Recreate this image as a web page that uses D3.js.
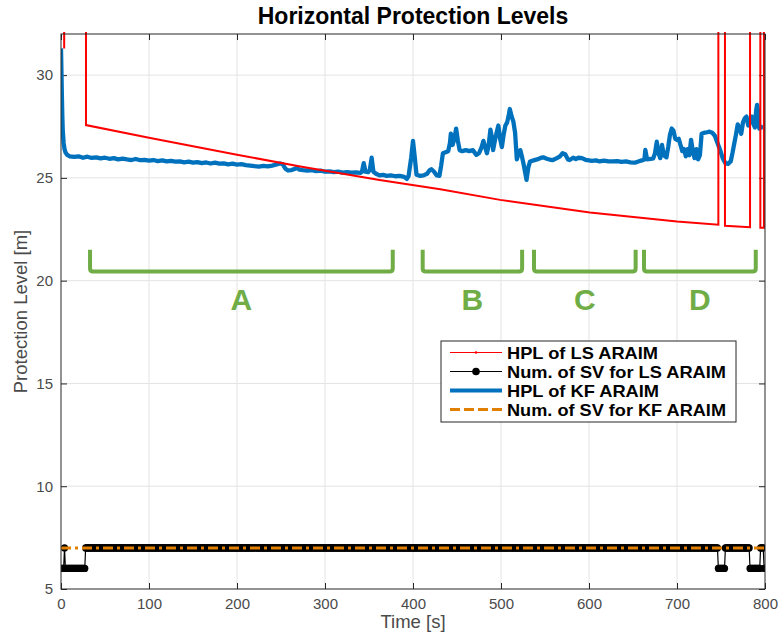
<!DOCTYPE html>
<html>
<head>
<meta charset="utf-8">
<script src="https://cdn.jsdelivr.net/npm/d3@7"></script>
<style>
  body { margin: 0; background: #fff; }
  text { font-family: "Liberation Sans", Arial, Helvetica, sans-serif; }
</style>
</head>
<body>
<div id="chart"></div>
<script>
// tick labels
const xTicks = [0, 100, 200, 300, 400, 500, 600, 700, 800];
const yTicks = [5, 10, 15, 20, 25, 30];

// HPL of KF ARAIM [time s, metres]
const hplKF = [
  [0,31.3],[0.5,30.2],[1,29.0],[1.5,28.0],[2,27.3],[3,26.7],[4,26.4],[5,26.25],[7,26.12],[10,26.05],
  [15,26.02],[20,26.05],[25,25.98],[30,26.03],[35,25.97],[40,26.0],[45,25.95],[50,25.98],[55,25.93],
  [60,25.96],[65,25.9],[70,25.94],[75,25.9],[80,25.87],[85,25.92],[90,25.86],[95,25.88],[100,25.84],
  [105,25.87],[110,25.82],[115,25.85],[120,25.8],[125,25.83],[130,25.79],[135,25.8],[140,25.76],
  [145,25.79],[150,25.74],[155,25.77],[160,25.72],[165,25.75],[170,25.7],[175,25.74],[180,25.69],
  [185,25.71],[190,25.66],[195,25.69],[200,25.65],[205,25.67],[210,25.62],[215,25.6],[220,25.57],
  [225,25.55],[230,25.58],[235,25.56],[240,25.6],[245,25.65],[249,25.7],[252,25.66],[255,25.45],
  [258,25.36],[262,25.38],[266,25.45],[268,25.48],[271,25.4],[275,25.38],[280,25.36],[285,25.38],
  [290,25.33],[295,25.35],[300,25.3],[305,25.32],[310,25.28],[315,25.3],[320,25.26],[325,25.28],
  [330,25.25],[335,25.27],[340,25.24],[342,25.3],[344,25.72],[346,25.3],[349,25.28],[351,25.4],
  [353,25.98],[355,25.3],[358,25.2],[362,25.12],[366,25.15],[370,25.1],[375,25.12],[380,25.08],
  [385,25.1],[390,25.05],[393,24.95],[395,25.1],[398,26.0],[400,26.8],[402,26.0],[404,25.15],
  [408,25.1],[412,25.12],[416,25.2],[419,25.38],[421,25.42],[424,25.3],[427,25.12],[430,25.1],
  [432,25.6],[434,26.2],[437,26.25],[440,26.3],[442,26.7],[443,27.15],[445,26.6],[447,26.9],
  [449,27.4],[451,26.8],[453,26.35],[456,26.3],[460,26.35],[464,26.3],[468,26.35],[472,26.12],
  [475,26.2],[478,26.5],[480,26.8],[482,26.5],[484,26.2],[486,26.6],[488,27.35],[490,26.9],
  [491,26.35],[493,26.8],[495,27.2],[497,27.55],[499,26.9],[501,26.5],[503,27.1],[505,27.55],
  [507,27.7],[509,28.1],[510,28.35],[512,28.0],[514,27.75],[516,27.2],[518,25.9],[520,26.2],
  [522,26.35],[524,26.0],[526,25.6],[529,24.9],[531,25.5],[533,25.8],[537,25.85],[541,25.9],
  [545,25.97],[548,26.0],[552,25.93],[556,25.88],[559,25.87],[563,25.95],[567,26.05],[570,26.2],
  [573,26.15],[576,25.9],[578,25.87],[582,25.98],[585,25.92],[588,25.98],[592,25.96],[596,25.88],
  [600,25.85],[603,25.83],[608,25.85],[612,25.8],[617,25.84],[622,25.8],[627,25.8],[632,25.82],
  [637,25.78],[642,25.8],[647,25.76],[652,25.74],[656,25.8],[660,25.85],[663,25.9],[664,26.36],
  [666,25.9],[670,25.92],[673,25.95],[675,26.2],[677,26.76],[679,26.2],[681,25.96],[683,26.6],
  [685,26.1],[688,26.0],[690,26.5],[692,27.1],[694,27.4],[696,27.3],[698,26.9],[700,26.85],
  [702,26.9],[704,26.6],[706,26.3],[708,26.4],[710,26.05],[712,26.4],[714,26.1],[716,26.85],
  [718,26.3],[720,25.96],[722,26.4],[724,25.9],[726,26.1],[728,27.15],[731,27.2],[734,27.22],
  [737,27.25],[740,27.2],[743,27.05],[746,26.7],[749,26.36],[752,25.95],[755,25.72],[758,25.68],
  [761,25.8],[763,26.2],[765,26.65],[767,27.1],[769,27.6],[771,27.4],[773,27.15],[775,27.7],
  [777,27.9],[779,27.98],[781,27.55],[783,27.75],[785,27.98],[787,27.6],[788.5,27.45],[790,28.3],
  [791,28.55],[792.5,28.1],[793.5,27.4],[795,27.5],[797,27.45],[798,27.42]
];

// HPL of LS ARAIM (values of 45 are off the top of the axes)
const hplLS = [
  [0,45],[3,45],[3.6,31.3],[4.2,45],[28.4,45],[28.4,27.57],[100,26.95],[200,26.13],[272,25.55],
  [362,24.9],[431,24.45],[499,23.93],[601,23.32],[700,22.88],[747,22.72],[747,45],[754.5,45],
  [754.5,22.67],[783,22.6],[783,45],[794.7,45],[794.7,22.57],[798.8,22.57],[798.8,45],[800,45]
];

// number of satellites, LS ARAIM: [from s, to s, count], one sample per second
const svLSRuns = [
  [0,3,6],[4,4,7],[5,27,6],[28,746,7],[747,754,6],[755,782,7],[783,794,6],[795,798,7],[799,800,6]
];
// number of satellites, KF ARAIM
const svKF = [[0,7],[800,7]];

// annotated phases
const phaseNames = ["A", "B", "C", "D"];
const phaseStart = [33, 411, 537.5, 662.5];
const phaseEnd = [377, 524, 653, 789.5];

const legendNames = ["HPL of LS ARAIM", "Num. of SV for LS ARAIM", "HPL of KF ARAIM", "Num. of SV for KF ARAIM"];
const legendTextWidth = [151, 219, 152, 219];

const width = 779, height = 635;
const margin = {top: 34, right: 14, bottom: 46, left: 61};
const w = width - margin.left - margin.right;
const h = height - margin.top - margin.bottom;

const blue = "#0072bd", red = "#ff0000", orange = "#e07f00", green = "#70ad47", axisCol = "#262626";
const dashDot = "10,4,3,4";

let svg = d3.select("#chart").append("svg")
  .attr("width", width)
  .attr("height", height);

svg.append("defs").append("clipPath").attr("id", "plotClip")
  .append("rect").attr("x", 0).attr("y", -2).attr("width", w).attr("height", h + 4);

let g = svg.append("g")
  .attr("transform", `translate(${margin.left}, ${margin.top})`);

let x = d3.scaleLinear().domain([0, 800]).range([0, w]);
let y = d3.scaleLinear().domain([5, 32]).range([h, 0]);

// grid
g.append("g").selectAll("line").data(xTicks.slice(1, -1)).enter().append("line")
  .attr("x1", d => x(d)).attr("x2", d => x(d))
  .attr("y1", 0).attr("y2", h)
  .attr("stroke", "#e3e3e3").attr("stroke-width", 1);
g.append("g").selectAll("line").data(yTicks.slice(1)).enter().append("line")
  .attr("x1", 0).attr("x2", w)
  .attr("y1", d => y(d)).attr("y2", d => y(d))
  .attr("stroke", "#e3e3e3").attr("stroke-width", 1);

// axes
function styleAxis(sel, labels) {
  sel.select(".domain").remove();
  sel.selectAll(".tick line").attr("stroke", axisCol);
  sel.selectAll(".tick text")
    .attr("fill", "#4a4a4a")
    .style("font-size", "15px");
  if (!labels) sel.selectAll(".tick text").remove();
}

g.append("g").attr("transform", `translate(0, ${h})`)
  .call(d3.axisBottom(x).tickValues(xTicks).tickSize(-6).tickPadding(9))
  .call(s => styleAxis(s, true));
g.append("g")
  .call(d3.axisTop(x).tickValues(xTicks).tickSize(-6))
  .call(s => styleAxis(s, false));
g.append("g")
  .call(d3.axisLeft(y).tickValues(yTicks).tickSize(-6).tickPadding(8))
  .call(s => styleAxis(s, true));
g.append("g").attr("transform", `translate(${w}, 0)`)
  .call(d3.axisRight(y).tickValues(yTicks).tickSize(-6))
  .call(s => styleAxis(s, false));

// plotted series
let plot = g.append("g").attr("clip-path", "url(#plotClip)");

let line = d3.line().x(d => x(d[0])).y(d => y(d[1]));

// LS satellites: markers every second
let svLS = [];
svLSRuns.forEach(function(r) {
  for (let t = r[0]; t <= r[1]; t++) svLS.push([t, r[2]]);
});

plot.append("path").datum(svLS)
  .attr("d", line)
  .attr("fill", "none").attr("stroke", "#000").attr("stroke-width", 1.2);
plot.append("g").selectAll("circle").data(svLS).enter().append("circle")
  .attr("cx", d => x(d[0])).attr("cy", d => y(d[1])).attr("r", 3.6)
  .attr("fill", "#000");

plot.append("path").datum(svKF)
  .attr("d", line)
  .attr("fill", "none").attr("stroke", orange).attr("stroke-width", 3)
  .attr("stroke-dasharray", dashDot);

plot.append("path").datum(hplKF)
  .attr("d", line)
  .attr("fill", "none").attr("stroke", blue).attr("stroke-width", 4.3)
  .attr("stroke-linejoin", "round");

plot.append("path").datum(hplLS)
  .attr("d", line)
  .attr("fill", "none").attr("stroke", red).attr("stroke-width", 2);

// box
g.append("rect")
  .attr("x", 0).attr("y", 0).attr("width", w).attr("height", h)
  .attr("fill", "none").attr("stroke", axisCol).attr("stroke-width", 1);

// phase brackets
let phaseTop = 21.5, phaseBottom = 20.45, phaseLabelY = 18.55;
phaseNames.forEach(function(name, i) {
  let x0 = x(phaseStart[i]), x1 = x(phaseEnd[i]);
  let yt = y(phaseTop), yb = y(phaseBottom);
  g.append("path")
    .attr("d", `M${x0},${yt} L${x0},${yb - 3} Q${x0},${yb} ${x0 + 3},${yb} L${x1 - 3},${yb} Q${x1},${yb} ${x1},${yb - 3} L${x1},${yt}`)
    .attr("fill", "none").attr("stroke", green).attr("stroke-width", 4);
  g.append("text")
    .attr("x", (x0 + x1) / 2).attr("y", y(phaseLabelY))
    .attr("text-anchor", "middle")
    .attr("fill", green)
    .style("font-size", "30px").style("font-weight", "bold")
    .text(name);
});

// legend
let lg = svg.append("g").attr("transform", "translate(441, 341)");
lg.append("rect").attr("width", 295).attr("height", 81)
  .attr("fill", "#fff").attr("stroke", axisCol).attr("stroke-width", 1);
legendNames.forEach(function(name, i) {
  let ly = 11.5 + i * 19;
  let item = lg.append("g");
  if (i == 0) {
    item.append("line").attr("x1", 9).attr("x2", 61).attr("y1", ly).attr("y2", ly)
      .attr("stroke", red).attr("stroke-width", 1.2);
    item.append("circle").attr("cx", 35).attr("cy", ly).attr("r", 1.3).attr("fill", red);
  } else if (i == 1) {
    item.append("line").attr("x1", 9).attr("x2", 61).attr("y1", ly).attr("y2", ly)
      .attr("stroke", "#000").attr("stroke-width", 1.2);
    item.append("circle").attr("cx", 35).attr("cy", ly).attr("r", 3.8).attr("fill", "#000");
  } else if (i == 2) {
    item.append("line").attr("x1", 9).attr("x2", 61).attr("y1", ly).attr("y2", ly)
      .attr("stroke", blue).attr("stroke-width", 4);
  } else {
    item.append("line").attr("x1", 9).attr("x2", 61).attr("y1", ly).attr("y2", ly)
      .attr("stroke", orange).attr("stroke-width", 3).attr("stroke-dasharray", "10,4");
  }
  item.append("text")
    .attr("x", 66).attr("y", ly + 6)
    .attr("fill", "#000")
    .style("font-size", "16.5px").style("font-weight", "bold")
    .attr("textLength", legendTextWidth[i])
    .attr("lengthAdjust", "spacingAndGlyphs")
    .text(name);
});

// title and axis labels
svg.append("text")
  .attr("x", margin.left + w / 2).attr("y", 24)
  .attr("text-anchor", "middle")
  .style("font-size", "23px").style("font-weight", "bold")
  .text("Horizontal Protection Levels");

svg.append("text")
  .attr("x", margin.left + w / 2).attr("y", 628)
  .attr("text-anchor", "middle")
  .attr("fill", "#4a4a4a")
  .style("font-size", "18.5px")
  .text("Time [s]");

svg.append("text")
  .attr("transform", `translate(27, ${margin.top + h / 2}) rotate(-90)`)
  .attr("text-anchor", "middle")
  .attr("fill", "#4a4a4a")
  .style("font-size", "18.5px")
  .text("Protection Level [m]");
</script>
</body>
</html>
